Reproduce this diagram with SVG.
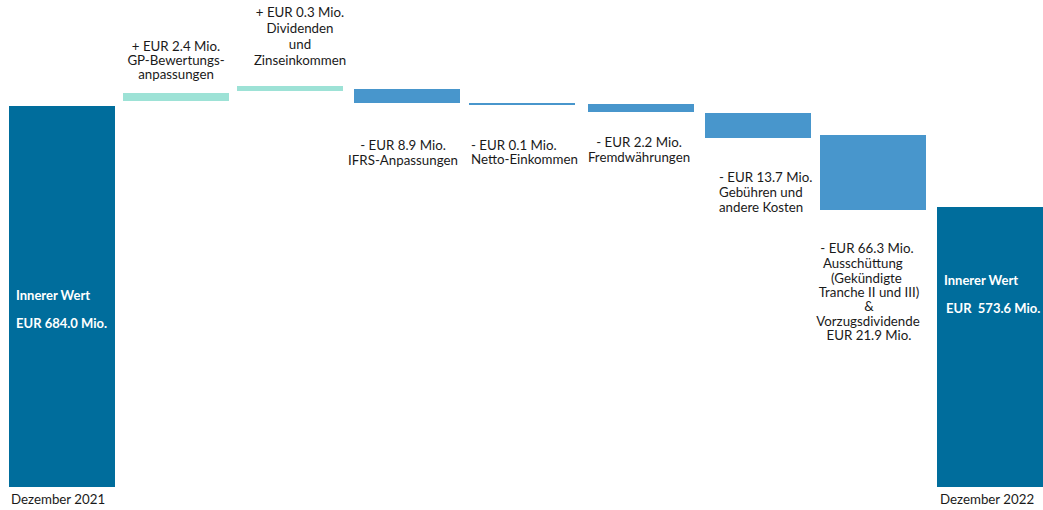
<svg xmlns="http://www.w3.org/2000/svg" width="1043" height="510" viewBox="0 0 1043 510">
<style>
text{font-family:Lato,"Liberation Sans",sans-serif;font-size:13.3px;fill:#1a1a1a}
.c{text-anchor:middle}
.w{fill:#ffffff;font-weight:bold;font-size:13px}
.dk{fill:#006d9c}
.up{fill:#9de2d6}
.dn{fill:#4896cc}
</style>
<rect width="1043" height="510" fill="#ffffff"/>
<g id="bar-start"><rect class="dk" x="9" y="106" width="106" height="381"/>
<text class="w" x="16" y="300">Innerer Wert</text>
<text class="w" x="16" y="328">EUR 684.0 Mio.</text>
<text x="11" y="504">Dezember 2021</text></g>
<g id="bar-gp"><rect class="up" x="123" y="93" width="106" height="8"/>
<text class="c" x="176" y="51">+ EUR 2.4 Mio.</text>
<text class="c" x="176" y="65">GP-Bewertungs-</text>
<text class="c" x="176" y="79">anpassungen</text></g>
<g id="bar-div"><rect class="up" x="237" y="86" width="106" height="5"/>
<text class="c" x="300" y="17">+ EUR 0.3 Mio.</text>
<text class="c" x="300" y="33">Dividenden</text>
<text class="c" x="300" y="49">und</text>
<text class="c" x="300" y="65">Zinseinkommen</text></g>
<g id="bar-ifrs"><rect class="dn" x="354" y="89" width="106" height="14"/>
<text class="c" x="403" y="150">- EUR 8.9 Mio.</text>
<text class="c" x="403" y="165">IFRS-Anpassungen</text></g>
<g id="bar-netto"><rect class="dn" x="469" y="103" width="106" height="2"/>
<text x="471" y="150">- EUR 0.1 Mio.</text>
<text x="471" y="164">Netto-Einkommen</text></g>
<g id="bar-fx"><rect class="dn" x="588" y="104" width="106" height="8"/>
<text class="c" x="639" y="147">- EUR 2.2 Mio.</text>
<text class="c" x="639" y="162">Fremdwährungen</text></g>
<g id="bar-fees"><rect class="dn" x="705" y="113" width="106" height="25"/>
<text x="719" y="182">- EUR 13.7 Mio.</text>
<text x="719" y="197">Gebühren und</text>
<text x="719" y="212">andere Kosten</text></g>
<g id="bar-dist"><rect class="dn" x="820" y="135" width="106" height="75"/>
<text class="c" x="867" y="253">- EUR 66.3 Mio.</text>
<text x="823" y="268">Ausschüttung</text>
<text x="831" y="283">(Gekündigte</text>
<text class="c" x="869" y="297">Tranche II und III)</text>
<text class="c" x="869" y="311">&amp;</text>
<text class="c" x="868" y="326">Vorzugsdividende</text>
<text class="c" x="869" y="340">EUR 21.9 Mio.</text></g>
<g id="bar-end"><rect class="dk" x="937" y="207" width="106" height="280"/>
<text class="w" x="944" y="285">Innerer Wert</text>
<text class="w" x="946" y="313" xml:space="preserve">EUR  573.6 Mio.</text>
<text x="940" y="504">Dezember 2022</text></g>
<g id="connectors"></g>
</svg>
